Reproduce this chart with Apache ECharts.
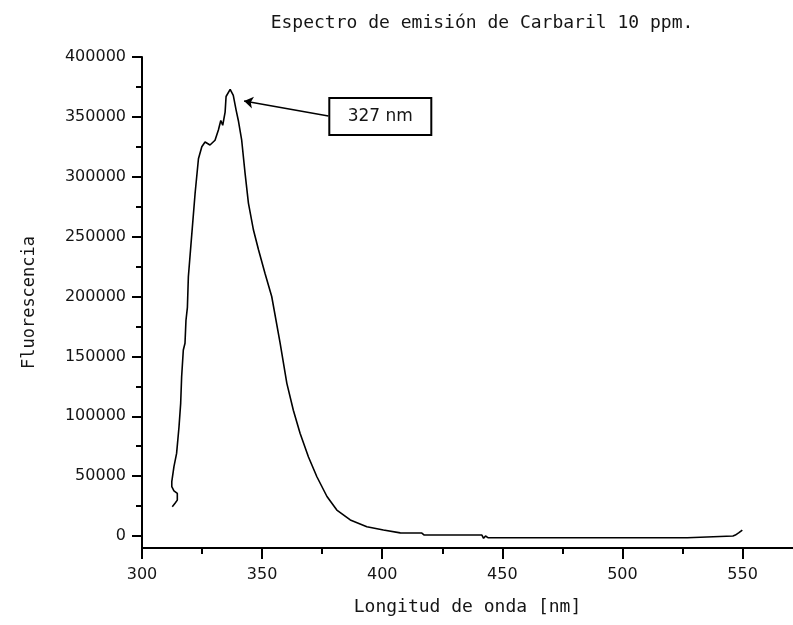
<!DOCTYPE html>
<html>
<head>
<meta charset="utf-8">
<script src="https://cdn.jsdelivr.net/npm/echarts@6/dist/echarts.min.js"></script>
<style>
  html, body { margin: 0; padding: 0; background: #fff; }
  #chart { width: 793px; height: 625px; }
</style>
</head>
<body>
<div id="chart"></div>
<script>
// Emission spectrum samples: wavelength (nm) and fluorescence intensity
const wavelength = [
  312.6, 313.75, 314.7, 314.7, 313.3, 312.4, 312.4, 313.3, 314.4, 315.4,
  316.1, 316.5, 317.2, 317.9, 318.3, 318.9, 319.3, 320.3, 322.1, 323.5,
  324.9, 326.25, 328.3, 330.4, 331.8, 332.8, 333.6, 334.6, 335.0, 336.7,
  338.0, 339.2, 340.1, 341.5, 342.9, 344.3, 346.4, 348.5, 351.25, 354.0,
  357.5, 360.3, 363.0, 365.8, 369.3, 372.8, 377.0, 381.1, 386.7, 393.6,
  400.5, 407.5, 416.5, 417.5, 441.5, 442.2, 443.0, 444.0, 527.0, 527.5,
  546.0, 547.0, 548.5, 549.9
];
const fluorescence = [
  24500, 27300, 30000, 35600, 37800, 41200, 45400, 57900, 69000, 91000,
  110800, 133000, 155300, 161000, 180000, 191000, 216500, 241500, 286000, 315000,
  325000, 329000, 326500, 330500, 339000, 347000, 343000, 354000, 367000, 373000,
  368000, 355500, 347000, 330500, 303000, 278000, 255500, 239000, 219000, 200000,
  161000, 127500, 105000, 85800, 66000, 49500, 33000, 21700, 13400, 7800,
  5000, 2600, 2500, 800, 800, -1900, 0, -1400, -1400, 0,
  0, 800, 2800, 5000
];

// Tick values
const xMajorTicks = [300, 350, 400, 450, 500, 550];
const xMinorTicks = [325, 375, 425, 475, 525];
const yMajorTicks = [0, 50000, 100000, 150000, 200000, 250000, 300000, 350000, 400000];
const yMinorTicks = [25000, 75000, 125000, 175000, 225000, 275000, 325000, 375000];

// Peak annotation (data coordinates)
const peakLabel = '327 nm';
const peakArrowFrom = [377.6, 350700];
const peakArrowTo = [342.5, 363200];
const peakBoxAt = [399.2, 350300];

const xRange = [300, 571];
const yRange = [-10000, 400000];

const spectrum = wavelength.map((w, i) => [w, fluorescence[i]]);

const ink = '#000';
const textInk = '#151515';
const tickFont = 'DejaVu Sans';
const nameFont = 'DejaVu Sans Mono';

const chart = echarts.init(document.getElementById('chart'), null, { renderer: 'canvas' });

chart.setOption({
  animation: false,
  backgroundColor: '#fff',
  title: {
    text: 'Espectro de emisión de Carbaril 10 ppm.',
    left: 477,
    textAlign: 'center',
    top: 9,
    textStyle: { fontFamily: nameFont, fontSize: 18, fontWeight: 'normal', color: textInk }
  },
  grid: {
    left: 142, right: 0, top: 57, bottom: 77,
    containLabel: false,
    outerBoundsMode: 'none'
  },
  xAxis: [
    {
      type: 'value', min: xRange[0], max: xRange[1], position: 'bottom',
      name: 'Longitud de onda [nm]', nameLocation: 'middle', nameGap: 50,
      nameTextStyle: { fontFamily: nameFont, fontSize: 18, color: textInk },
      axisLine: { show: true, onZero: false, lineStyle: { color: ink, width: 2 } },
      axisTick: { show: true, customValues: xMajorTicks, length: 11, lineStyle: { color: ink, width: 2 } },
      axisLabel: {
        customValues: xMajorTicks, margin: 19, fontFamily: tickFont, fontSize: 16, color: textInk,
        formatter: (v) => String(v)
      },
      splitLine: { show: false }
    },
    {
      type: 'value', min: xRange[0], max: xRange[1], position: 'bottom',
      axisLine: { show: false, onZero: false },
      axisTick: { show: true, customValues: xMinorTicks, length: 6, lineStyle: { color: ink, width: 2 } },
      axisLabel: { show: false },
      splitLine: { show: false }
    }
  ],
  yAxis: [
    {
      type: 'value', min: yRange[0], max: yRange[1], position: 'left',
      name: 'Fluorescencia', nameLocation: 'middle', nameGap: 104,
      nameTextStyle: { fontFamily: nameFont, fontSize: 17, color: textInk },
      axisLine: { show: true, onZero: false, lineStyle: { color: ink, width: 2 } },
      axisTick: { show: true, customValues: yMajorTicks, length: 10, lineStyle: { color: ink, width: 2 } },
      axisLabel: {
        customValues: yMajorTicks, margin: 16, fontFamily: tickFont, fontSize: 16, color: textInk,
        formatter: (v) => String(v)
      },
      splitLine: { show: false }
    },
    {
      type: 'value', min: yRange[0], max: yRange[1], position: 'left',
      axisLine: { show: false, onZero: false },
      axisTick: { show: true, customValues: yMinorTicks, length: 6, lineStyle: { color: ink, width: 2 } },
      axisLabel: { show: false },
      splitLine: { show: false }
    }
  ],
  series: [
    {
      type: 'line',
      xAxisIndex: 0,
      yAxisIndex: 0,
      data: spectrum,
      showSymbol: false,
      smooth: false,
      lineStyle: { color: ink, width: 1.6 },
      markLine: {
        silent: true,
        symbol: ['none', 'arrow'],
        symbolSize: 9,
        lineStyle: { color: ink, width: 1.6, type: 'solid' },
        label: { show: false },
        data: [[{ coord: peakArrowFrom }, { coord: peakArrowTo }]]
      },
      markPoint: {
        silent: true,
        symbol: 'circle',
        symbolSize: 1,
        itemStyle: { color: 'rgba(0,0,0,0)' },
        data: [{
          coord: peakBoxAt,
          label: {
            show: true, position: 'inside', formatter: peakLabel,
            fontFamily: tickFont, fontSize: 17, color: textInk,
            backgroundColor: '#fff', borderColor: ink, borderWidth: 2,
            width: 100, height: 35, lineHeight: 35, align: 'center', verticalAlign: 'middle',
            padding: 0
          }
        }]
      }
    }
  ]
});
</script>
</body>
</html>
